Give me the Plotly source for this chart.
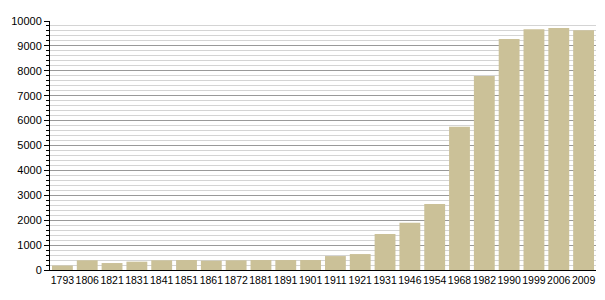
import plotly.graph_objects as go

years = ["1793", "1806", "1821", "1831", "1841", "1851", "1861", "1872", "1881", "1891",
         "1901", "1911", "1921", "1931", "1946", "1954", "1968", "1982", "1990", "1999",
         "2006", "2009"]
population = [180, 390, 280, 335, 390, 400, 375, 390, 400, 400,
              400, 560, 640, 1445, 1900, 2650, 5750, 7790, 9280, 9670,
              9720, 9630]

fig = go.Figure()
fig.add_trace(go.Bar(x=years, y=population, marker=dict(color="#CBC198", line=dict(width=0)),
                     hoverinfo="x+y"))

fig.update_layout(
    width=605, height=300,
    margin=dict(l=50, r=9, t=21, b=30),
    paper_bgcolor="white", plot_bgcolor="white",
    bargap=0.16,
    showlegend=False,
    font=dict(family="Liberation Sans, Arial, sans-serif", size=11, color="black"),
)
fig.update_xaxes(
    type="category", showgrid=False, showline=True, linecolor="black", linewidth=1,
    ticks="", tickfont=dict(size=10.5), tickangle=0, automargin=False,
)
fig.update_yaxes(
    range=[0, 10000], dtick=1000, tick0=0, tickformat="d",
    showgrid=True, gridcolor="#999999", gridwidth=1,
    showline=True, linecolor="black", linewidth=1,
    ticks="outside", ticklen=5, tickcolor="black",
    minor=dict(dtick=200, ticks="outside", ticklen=3, tickcolor="black",
               showgrid=True, gridcolor="#d4d4d4", gridwidth=1),
    zeroline=False, tickfont=dict(size=11), automargin=False,
)

fig.write_html("out.html")
